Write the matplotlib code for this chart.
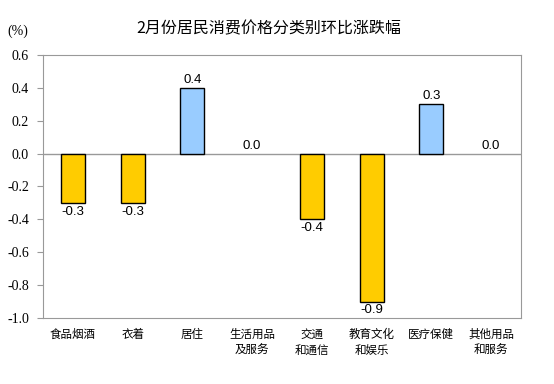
import matplotlib
matplotlib.use("Agg")
import matplotlib.pyplot as plt
from matplotlib import font_manager

plt.rcParams["font.family"] = ["Noto Sans CJK SC", "DejaVu Sans"]
print(font_manager.findfont("Liberation Serif"))

categories = ["食品烟酒", "衣着", "居住", "生活用品\n及服务", "交通\n和通信",
              "教育文化\n和娱乐", "医疗保健", "其他用品\n和服务"]
values = [-0.3, -0.3, 0.4, 0.0, -0.4, -0.9, 0.3, 0.0]
yticks = [0.6, 0.4, 0.2, 0.0, -0.2, -0.4, -0.6, -0.8, -1.0]

YELLOW = "#FFCC00"
BLUE = "#99CCFF"
GREY = "#999999"
SERIF = ["Liberation Serif", "DejaVu Serif"]

fig = plt.figure(figsize=(5.54, 3.84), dpi=100)
ax = fig.add_axes([0.0776, 0.1719, 0.8628, 0.6849])

x = range(len(categories))
colors = [BLUE if v > 0 else YELLOW for v in values]
widths = [1 if v != 0 else 0 for v in values]
ax.bar(x, values, width=0.4, color=colors, edgecolor="black", linewidth=widths,
       zorder=3)
ax.axhline(0, color=GREY, lw=1, zorder=2)

for i, v in enumerate(values):
    if v < 0:
        ax.annotate(f"{v:.1f}", (i, v), xytext=(0, -2), textcoords="offset points",
                    ha="center", va="top", fontsize=9.5, family="Liberation Sans")
    else:
        ax.annotate(f"{v:.1f}", (i, v), xytext=(0, 1.5), textcoords="offset points",
                    ha="center", va="bottom", fontsize=9.5, family="Liberation Sans")

ax.set_xlim(-0.5, len(categories) - 0.5)
ax.set_ylim(-1.0, 0.6)
ax.set_yticks(yticks)
ax.set_yticklabels([f"{t:.1f}" for t in yticks])
for lbl in ax.get_yticklabels():
    lbl.set_family(SERIF)
    lbl.set_fontsize(10)
ax.set_xticks(list(x))
ax.set_xticklabels(categories, fontsize=8.3, linespacing=1.35, va="top")
ax.tick_params(axis="x", length=0, pad=7)
ax.tick_params(axis="y", length=4, color=GREY, direction="out", pad=6)
for s in ax.spines.values():
    s.set_color(GREY)

fig.text(268.5 / 554, 1 - 29 / 384, "2月份居民消费价格分类别环比涨跌幅",
         ha="center", va="center", fontsize=11.5)
fig.text(7 / 554, 1 - 31 / 384, "(%)", ha="left", va="center", fontsize=10,
         family=SERIF)

fig.savefig("out.png", dpi=100)
